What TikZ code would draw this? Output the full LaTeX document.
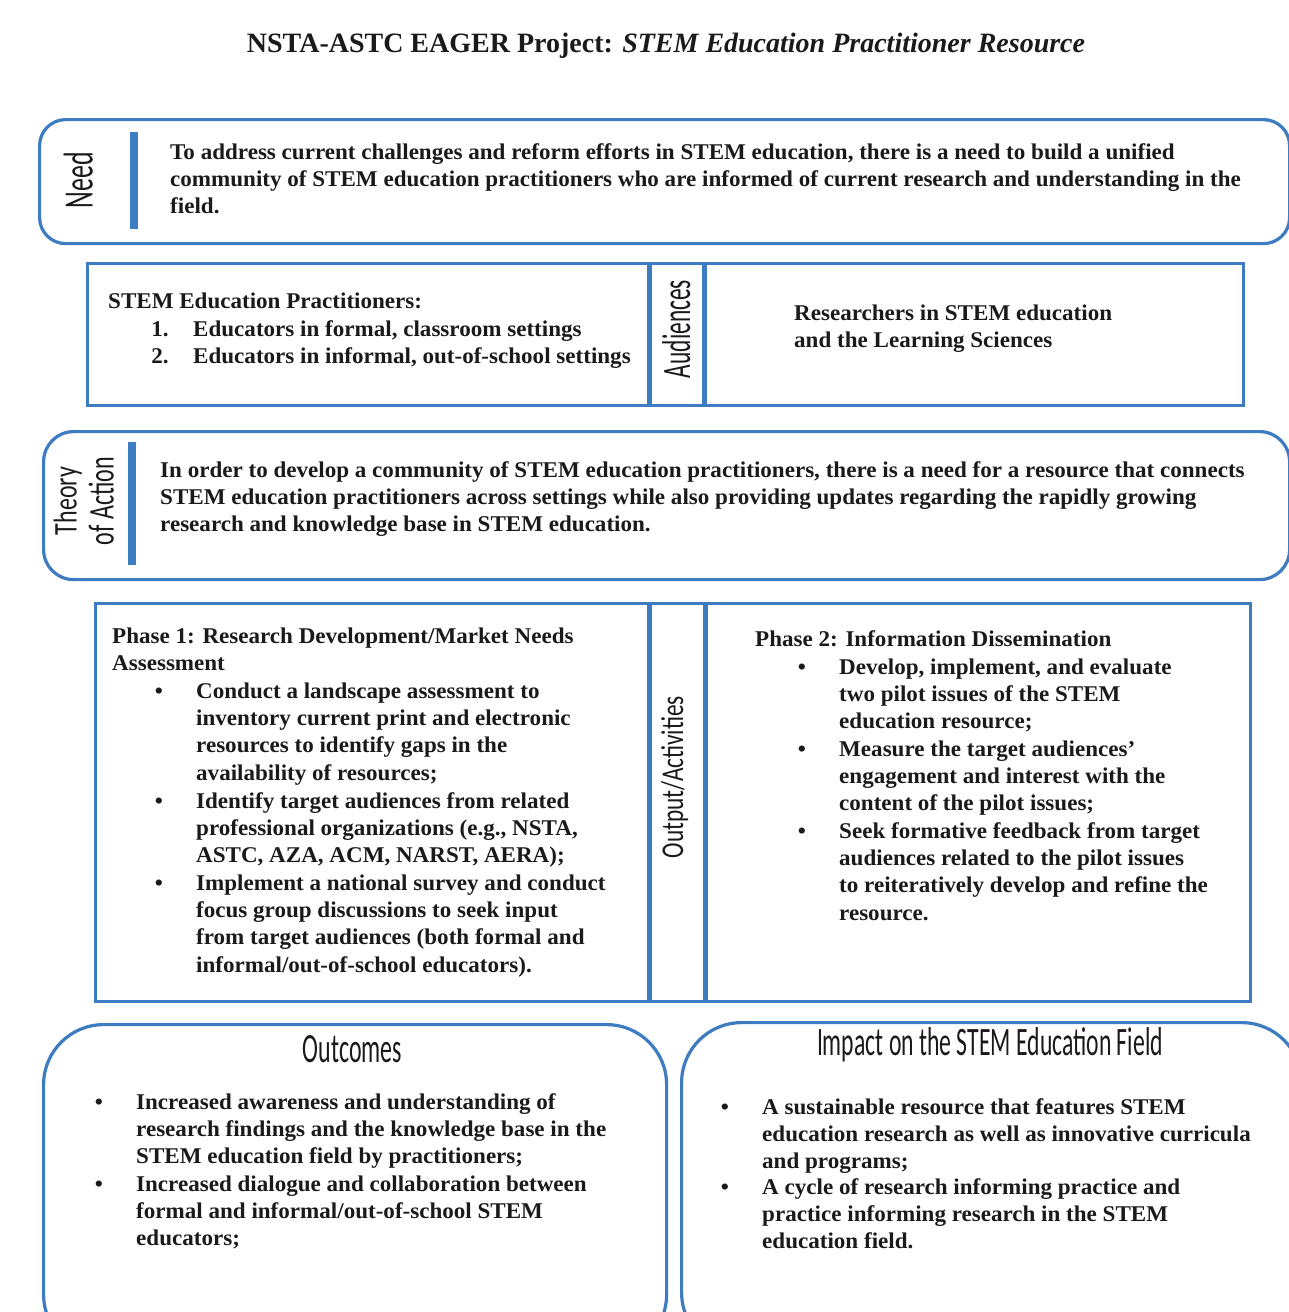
\documentclass[tikz,border=0pt]{standalone}
\usepackage{fontspec}
\usepackage{graphicx}
\setmainfont{Liberation Serif}
\newfontfamily\bodyfont[FakeStretch=1.025]{Liberation Serif}
\newfontfamily\headfont{Carlito}
\definecolor{frameblue}{HTML}{3D7CC0}
\definecolor{ink}{HTML}{1A1A1A}

\tikzset{
  panel/.style={draw=frameblue, line width=3.2pt, fill=white},
  divider/.style={draw=frameblue, line width=5pt},
  sidebar/.style={fill=frameblue, draw=none},
  body/.style={font=\bodyfont\bfseries\fontsize{22.5}{27.3}\selectfont, text=ink,
    inner sep=0pt, anchor=north west, align=left, yshift=19.11pt},
  bullet/.style={font=\bodyfont\bfseries\fontsize{22.5}{27.3}\selectfont, text=ink,
    inner sep=0pt, anchor=base},
  label/.style={inner sep=0pt, anchor=base, text=ink},
}

\begin{document}
\begin{tikzpicture}[x=1pt, y=-1pt]
  \useasboundingbox (0,0) rectangle (1289,1312);
  \fill[white] (0,0) rectangle (1289,1312);
  \clip (0,0) rectangle (1289,1312);

  % title
  \node[label, font=\bfseries\fontsize{28}{32}\selectfont] (title) at (666,52)
    {NSTA-ASTC EAGER Project: \textit{STEM Education Practitioner Resource}};

  % ---- Need ----
  \node[panel, rounded corners=26pt, anchor=north west, minimum width=1250pt,
        minimum height=124pt] (needbox) at (38,118) {};
  \fill[sidebar] (130,132) rectangle (138,229);
  \node[label, rotate=90] (needlbl) at (92.5,180)
    {\resizebox{56pt}{29pt}{\headfont Need}};
  \node[body] (needtxt) at (170,159)
    {\strut To address current challenges and reform efforts in STEM education, there is a need to build a unified\\
     community of STEM education practitioners who are informed of current research and understanding in the\\
     field.};

  % ---- Audiences ----
  \node[panel, anchor=north west, minimum width=1156pt, minimum height=142pt]
    (audbox) at (86,262) {};
  \draw[divider] (649,262) -- (649,404);
  \draw[divider] (704,262) -- (704,404);
  \node[label, rotate=90] (audlbl) at (690,329)
    {\resizebox{98pt}{28pt}{\headfont Audiences}};
  \node[body] (practhead) at (108,308) {\strut STEM Education Practitioners:};
  \node[bullet] (n1) at (160,336) {1.};
  \node[body] (p1) at (193,336) {\strut Educators in formal, classroom settings};
  \node[bullet] (n2) at (160,363) {2.};
  \node[body] (p2) at (193,363) {\strut Educators in informal, out-of-school settings};
  \node[body] (researchers) at (794,320)
    {\strut Researchers in STEM education\\ and the Learning Sciences};

  % ---- Theory of Action ----
  \node[panel, rounded corners=30pt, anchor=north west, minimum width=1246pt,
        minimum height=148pt] (theorybox) at (42,430) {};
  \fill[sidebar] (128,442) rectangle (136,565);
  \node[label, rotate=90] (theorylbl) at (76.5,501)
    {\resizebox{68pt}{23pt}{\headfont Theory}};
  \node[label, rotate=90] (actionlbl) at (113.5,501)
    {\resizebox{88pt}{25pt}{\headfont of Action}};
  \node[body] (theorytxt) at (160,477)
    {\strut In order to develop a community of STEM education practitioners, there is a need for a resource that connects\\
     STEM education practitioners across settings while also providing updates regarding the rapidly growing\\
     research and knowledge base in STEM education.};

  % ---- Output / Activities ----
  \node[panel, anchor=north west, minimum width=1155pt, minimum height=398pt]
    (outbox) at (94,602) {};
  \draw[divider] (649,602) -- (649,1000);
  \draw[divider] (705,602) -- (705,1000);
  \node[label, rotate=90] (outlbl) at (683,777)
    {\resizebox{162pt}{22pt}{\headfont Output/Activities}};

  \node[body] (ph1) at (112,643)
    {\strut Phase 1: Research Development/Market Needs\\ Assessment};
  \node[bullet] (b11) at (159,698) {\textbullet};
  \node[body] (t11) at (196,698)
    {\strut Conduct a landscape assessment to\\ inventory current print and electronic\\
     resources to identify gaps in the\\ availability of resources;};
  \node[bullet] (b12) at (159,808) {\textbullet};
  \node[body] (t12) at (196,808)
    {\strut Identify target audiences from related\\ professional organizations (e.g., NSTA,\\
     ASTC, AZA, ACM, NARST, AERA);};
  \node[bullet] (b13) at (159,890) {\textbullet};
  \node[body] (t13) at (196,890)
    {\strut Implement a national survey and conduct\\ focus group discussions to seek input\\
     from target audiences (both formal and\\ informal/out-of-school educators).};

  \node[body] (ph2) at (755,646) {\strut Phase 2: Information Dissemination};
  \node[bullet] (b21) at (802,674) {\textbullet};
  \node[body] (t21) at (839,674)
    {\strut Develop, implement, and evaluate\\ two pilot issues of the STEM\\ education resource;};
  \node[bullet] (b22) at (802,756) {\textbullet};
  \node[body] (t22) at (839,756)
    {\strut Measure the target audiences’\\ engagement and interest with the\\ content of the pilot issues;};
  \node[bullet] (b23) at (802,838) {\textbullet};
  \node[body] (t23) at (839,838)
    {\strut Seek formative feedback from target\\ audiences related to the pilot issues\\
     to reiteratively develop and refine the\\ resource.};

  % ---- Outcomes ----
  \node[panel, rounded corners=60pt, anchor=north west, minimum width=623pt,
        minimum height=330pt] (outcomesbox) at (42,1023) {};
  \node[label] (outcomeslbl) at (352.5,1062)
    {\resizebox{99pt}{27pt}{\headfont Outcomes}};
  \node[bullet] (b31) at (99,1109) {\textbullet};
  \node[body] (t31) at (136,1109)
    {\strut Increased awareness and understanding of\\ research findings and the knowledge base in the\\
     STEM education field by practitioners;};
  \node[bullet] (b32) at (99,1191) {\textbullet};
  \node[body] (t32) at (136,1191)
    {\strut Increased dialogue and collaboration between\\ formal and informal/out-of-school STEM\\ educators;};

  % ---- Impact ----
  \node[panel, rounded corners=60pt, anchor=north west, minimum width=620pt,
        minimum height=330pt] (impactbox) at (680,1021) {};
  \node[label] (impactlbl) at (990,1055)
    {\resizebox{346pt}{28pt}{\headfont Impact on the STEM Education Field}};
  \node[bullet] (b41) at (725,1114) {\textbullet};
  \node[body] (t41) at (762,1114)
    {\strut A sustainable resource that features STEM\\ education research as well as innovative curricula\\ and programs;};
  \node[bullet] (b42) at (725,1194) {\textbullet};
  \node[body] (t42) at (762,1194)
    {\strut A cycle of research informing practice and\\ practice informing research in the STEM\\ education field.};
\end{tikzpicture}
\end{document}
